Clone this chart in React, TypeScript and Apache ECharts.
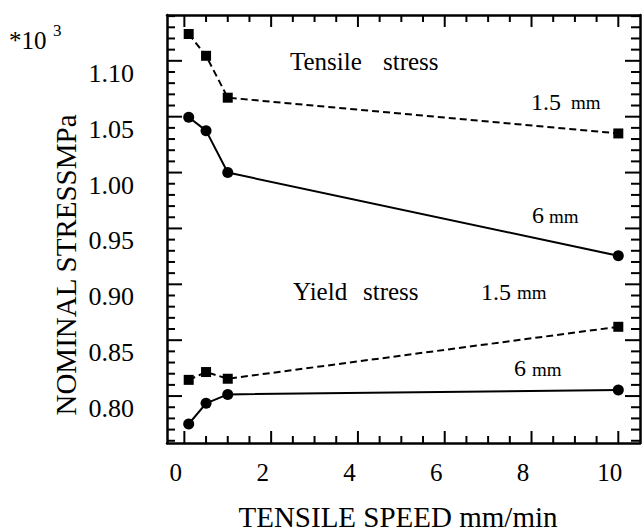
import React, { useEffect, useRef, useState } from "react";
import * as echarts from "echarts";

// ---- data ----
const speeds = [0.1, 0.5, 1.0, 10.0];
const tensile15 = [1.124, 1.1045, 1.067, 1.035];
const tensile6 = [1.0495, 1.0375, 1.0, 0.9255];
const yield15 = [0.8145, 0.8215, 0.8155, 0.862];
const yield6 = [0.775, 0.7935, 0.8015, 0.8055];

const xMajor = [0, 2, 4, 6, 8, 10];
const xMinor = [0.5, 1, 1.5, 2.5, 3, 3.5, 4.5, 5, 5.5, 6.5, 7, 7.5, 8.5, 9, 9.5];
const yMajor = [0.8, 0.85, 0.9, 0.95, 1.0, 1.05, 1.1];
const yMinor = [
  0.76, 0.77, 0.78, 0.79, 0.81, 0.82, 0.83, 0.84, 0.86, 0.87, 0.88, 0.89,
  0.91, 0.92, 0.93, 0.94, 0.96, 0.97, 0.98, 0.99, 1.01, 1.02, 1.03, 1.04,
  1.06, 1.07, 1.08, 1.09, 1.11, 1.12, 1.13, 1.14,
];

const X_MIN = -0.4;
const X_MAX = 10.5;
const Y_MIN = 0.758;
const Y_MAX = 1.141;

const SERIF = '"Liberation Serif", "Times New Roman", serif';

const pairs = (ys: number[]) => speeds.map((x, i) => [x, ys[i]]);

export default function App() {
  const ref = useRef<HTMLDivElement>(null);
  const [ready, setReady] = useState(false);
  useEffect(() => {
    if (!ref.current) return;
    const chart = echarts.init(ref.current, null, { renderer: "svg" });

    const lineW = 2.5;

    const xAx = (position: string, labels: boolean) => ({
      type: "value",
      position,
      min: X_MIN,
      max: X_MAX,
      axisLine: { show: true, onZero: false, lineStyle: { color: "#000", width: lineW } },
      axisTick: { show: false },
      axisLabel: labels
        ? {
            show: true,
            customValues: xMajor,
            margin: 17,
            padding: [0, 17, 0, 0],
            fontFamily: SERIF,
            fontSize: 25,
            color: "#000",
          }
        : { show: false },
      splitLine: { show: false },
    });
    const yAx = (position: string, labels: boolean) => ({
      type: "value",
      position,
      min: Y_MIN,
      max: Y_MAX,
      axisLine: { show: true, onZero: false, lineStyle: { color: "#000", width: lineW } },
      axisTick: { show: false },
      axisLabel: labels
        ? {
            show: true,
            customValues: yMajor,
            margin: 33,
            verticalAlign: "top",
            lineHeight: 25,
            fontFamily: SERIF,
            fontSize: 26,
            color: "#000",
            formatter: (v: number) => v.toFixed(2),
          }
        : { show: false },
      splitLine: { show: false },
    });

    const txt = (text: string, x: number, y: number, size: number, align: string = "left") => ({
      type: "text",
      x,
      y,
      style: {
        text,
        x: 0,
        y: 0,
        font: `${size}px ${SERIF}`,
        fill: "#000",
        align,
        verticalAlign: "middle",
      },
    });

    // tick items: [x, y, length, direction]  dir 0: up, 1: down, 2: right, 3: left
    const tickData: number[][] = [];
    xMajor.forEach((v) => { tickData.push([v, Y_MIN, 12, 0]); tickData.push([v, Y_MAX, 12, 1]); });
    xMinor.forEach((v) => { tickData.push([v, Y_MIN, 7, 0]); tickData.push([v, Y_MAX, 7, 1]); });
    yMajor.forEach((v) => { tickData.push([X_MIN, v, 15, 2]); tickData.push([X_MAX, v, 15, 3]); });
    yMinor.forEach((v) => { tickData.push([X_MIN, v, 8, 2]); tickData.push([X_MAX, v, 9, 3]); });

    const option = {
      animation: false,
      grid: { left: 167, right: 2, top: 15, bottom: 89 },
      xAxis: [xAx("bottom", true), xAx("top", false)],
      yAxis: [yAx("left", true), yAx("right", false)],
      series: [
        {
          type: "custom",
          silent: true,
          data: tickData,
          renderItem: (_p: any, api: any) => {
            const p = api.coord([api.value(0), api.value(1)]);
            const len = api.value(2);
            const dir = api.value(3);
            let x2 = p[0];
            let y2 = p[1];
            if (dir === 0) y2 = p[1] - len;
            else if (dir === 1) y2 = p[1] + len;
            else if (dir === 2) x2 = p[0] + len;
            else x2 = p[0] - len;
            return {
              type: "line",
              shape: { x1: p[0], y1: p[1], x2, y2 },
              style: { stroke: "#000", lineWidth: 2 },
            };
          },
        },
        {
          type: "line",
          data: pairs(tensile15),
          symbol: "rect",
          symbolSize: 10,
          itemStyle: { color: "#000" },
          lineStyle: { color: "#000", width: 2, type: [7, 4] },
        },
        {
          type: "line",
          data: pairs(tensile6),
          symbol: "circle",
          symbolSize: 11,
          itemStyle: { color: "#000" },
          lineStyle: { color: "#000", width: 2 },
        },
        {
          type: "line",
          data: pairs(yield15),
          symbol: "rect",
          symbolSize: 10,
          itemStyle: { color: "#000" },
          lineStyle: { color: "#000", width: 2, type: [7, 4] },
        },
        {
          type: "line",
          data: pairs(yield6),
          symbol: "circle",
          symbolSize: 11,
          itemStyle: { color: "#000" },
          lineStyle: { color: "#000", width: 2 },
        },
      ],
      graphic: [
        txt("*10", 9, 40, 25),
        txt("3", 53, 30, 17),
        {
          type: "text",
          x: 66,
          y: 265,
          rotation: Math.PI / 2,
          style: {
            text: "NOMINAL STRESSMPa",
            x: 0,
            y: 0,
            font: `29px ${SERIF}`,
            fill: "#000",
            align: "center",
            verticalAlign: "middle",
          },
        },
        txt("TENSILE SPEED mm/min", 398, 517, 29, "center"),
        txt("Tensile", 290, 61, 25),
        txt("stress", 383, 61, 25),
        txt("1.5", 531, 101.5, 24),
        txt("mm", 571, 102, 19),
        txt("6", 532, 215, 24),
        txt("mm", 549, 216, 19),
        txt("Yield", 293, 291.5, 25),
        txt("stress", 363, 291.5, 25),
        txt("1.5", 481, 291.5, 24),
        txt("mm", 517, 292, 19),
        txt("6", 514, 368, 24),
        txt("mm", 532, 369, 19),
      ],
    };
    chart.setOption(option);
    const t = window.setTimeout(() => {
      chart.setOption(option, { notMerge: true });
      setReady(true);
    }, 150);
    return () => {
      window.clearTimeout(t);
      chart.dispose();
    };
  }, []);
  return (
    <div
      ref={ref}
      data-ready={ready ? "1" : "0"}
      style={{ position: "absolute", left: 0, top: 0, width: 642, height: 532, background: "#fff" }}
    />
  );
}
